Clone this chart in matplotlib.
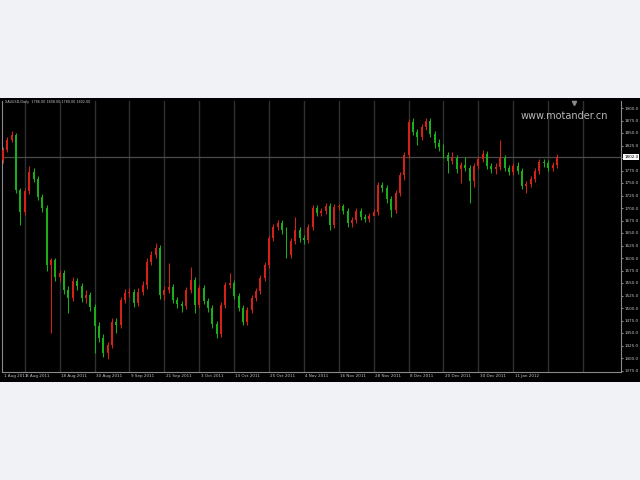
import matplotlib

matplotlib.use("Agg")
import matplotlib.pyplot as plt
import matplotlib.transforms as mtransforms
import numpy as np
from matplotlib.patches import Rectangle

TITLE = "XAUUSD,Daily  1786.00 1808.00 1780.00 1802.00"
WATERMARK = "www.motander.cn"

# daily bars
opens = [1796, 1816, 1836, 1846, 1736, 1692, 1734, 1772, 1758, 1722,
         1700, 1586, 1596, 1562, 1570, 1536, 1520, 1554, 1544, 1520,
         1526, 1502, 1464, 1440, 1410, 1426, 1472, 1466, 1516, 1530,
         1532, 1510, 1532, 1546, 1592, 1606, 1620, 1526, 1536, 1542,
         1516, 1508, 1504, 1536, 1556, 1506, 1540, 1514, 1500, 1468,
         1448, 1506, 1546, 1550, 1524, 1500, 1472, 1496, 1520, 1534,
         1560, 1586, 1640, 1662, 1670, 1656, 1606, 1634, 1656, 1640,
         1636, 1662, 1700, 1690, 1694, 1704, 1666, 1702, 1704, 1694,
         1670, 1676, 1694, 1682, 1678, 1684, 1692, 1746, 1740, 1718,
         1696, 1730, 1766, 1806, 1872, 1852, 1842, 1862, 1874, 1848,
         1830, 1822, 1806, 1794, 1800, 1778, 1786, 1780, 1754, 1784,
         1798, 1808, 1784, 1778, 1782, 1800, 1780, 1772, 1784, 1774,
         1744, 1748, 1758, 1774, 1792, 1790, 1780, 1786]
highs = [1822, 1842, 1854, 1850, 1740, 1740, 1784, 1780, 1764, 1728,
         1706, 1600, 1600, 1576, 1576, 1544, 1562, 1560, 1550, 1536,
         1532, 1508, 1472, 1448, 1432, 1480, 1480, 1522, 1538, 1540,
         1538, 1540, 1554, 1600, 1614, 1630, 1626, 1544, 1590, 1548,
         1522, 1514, 1542, 1582, 1562, 1546, 1546, 1520, 1506, 1474,
         1512, 1552, 1570, 1556, 1530, 1506, 1502, 1526, 1540, 1566,
         1592, 1646, 1668, 1676, 1676, 1662, 1640, 1682, 1662, 1646,
         1668, 1706, 1706, 1700, 1710, 1710, 1708, 1708, 1708, 1700,
         1682, 1700, 1700, 1688, 1690, 1698, 1752, 1752, 1746, 1724,
         1736, 1772, 1812, 1878, 1880, 1858, 1868, 1880, 1880, 1854,
         1838, 1828, 1812, 1812, 1806, 1792, 1802, 1786, 1790, 1804,
         1816, 1814, 1790, 1790, 1836, 1806, 1786, 1790, 1792, 1780,
         1754, 1764, 1780, 1798, 1798, 1796, 1792, 1808]
lows = [1790, 1812, 1832, 1730, 1666, 1686, 1728, 1752, 1716, 1692,
        1574, 1450, 1554, 1552, 1528, 1490, 1514, 1536, 1512, 1510,
        1494, 1410, 1432, 1402, 1398, 1420, 1450, 1460, 1510, 1522,
        1502, 1504, 1526, 1538, 1586, 1600, 1518, 1516, 1530, 1510,
        1500, 1492, 1498, 1530, 1490, 1500, 1508, 1492, 1460, 1440,
        1442, 1500, 1540, 1518, 1494, 1466, 1466, 1490, 1514, 1528,
        1554, 1580, 1634, 1656, 1648, 1600, 1600, 1628, 1632, 1628,
        1630, 1656, 1684, 1684, 1688, 1656, 1660, 1696, 1688, 1662,
        1662, 1670, 1676, 1672, 1672, 1686, 1686, 1732, 1710, 1682,
        1690, 1724, 1756, 1800, 1846, 1826, 1836, 1856, 1842, 1820,
        1814, 1800, 1770, 1788, 1770, 1750, 1774, 1710, 1742, 1778,
        1792, 1778, 1770, 1768, 1776, 1774, 1766, 1766, 1768, 1738,
        1730, 1742, 1752, 1768, 1782, 1774, 1774, 1780]
closes = [1816, 1836, 1846, 1736, 1692, 1734, 1772, 1758, 1722, 1700,
          1586, 1596, 1562, 1570, 1536, 1520, 1554, 1544, 1520, 1526,
          1502, 1464, 1440, 1410, 1426, 1472, 1466, 1516, 1530, 1532,
          1510, 1532, 1546, 1592, 1606, 1620, 1526, 1536, 1542, 1516,
          1508, 1504, 1536, 1556, 1506, 1540, 1514, 1500, 1468, 1448,
          1506, 1546, 1550, 1524, 1500, 1472, 1496, 1520, 1534, 1560,
          1586, 1640, 1662, 1670, 1656, 1606, 1634, 1656, 1640, 1636,
          1662, 1700, 1690, 1694, 1704, 1666, 1702, 1704, 1694, 1670,
          1676, 1694, 1682, 1678, 1684, 1692, 1746, 1740, 1718, 1696,
          1730, 1766, 1806, 1872, 1852, 1842, 1862, 1874, 1848, 1830,
          1822, 1806, 1794, 1800, 1778, 1786, 1780, 1754, 1784, 1798,
          1808, 1784, 1778, 1782, 1800, 1780, 1772, 1784, 1774, 1744,
          1748, 1758, 1774, 1792, 1790, 1780, 1786, 1802]

price_ticks = list(range(1375, 1901, 25))
grid_bars = [5, 13, 21, 29, 37, 45, 53, 61, 69, 77, 85, 93, 101, 109, 117, 125, 133]
label_bars = [0, 5, 13, 21, 29, 37, 45, 53, 61, 69, 77, 85, 93, 101, 109, 117]
time_labels = ["1 Aug 2011", "8 Aug 2011", "18 Aug 2011", "30 Aug 2011", "9 Sep 2011",
               "21 Sep 2011", "3 Oct 2011", "13 Oct 2011", "25 Oct 2011", "4 Nov 2011",
               "16 Nov 2011", "28 Nov 2011", "8 Dec 2011", "20 Dec 2011", "30 Dec 2011",
               "11 Jan 2012"]

UP = "#d42218"
DOWN = "#1aae1a"
FG = "#c4c4c4"

W, H = 640, 480
fig = plt.figure(figsize=(6.4, 4.8), dpi=100, facecolor="#f0f2f5")
fig.patches.append(
    Rectangle((0, 1 - 382 / H), 1, 284 / H, transform=fig.transFigure,
              facecolor="black", edgecolor="none", zorder=-10)
)
ax = fig.add_axes([2 / W, 1 - 372 / H, 619 / W, 271 / H])
ax.set_facecolor("black")

o = np.array(opens)
h = np.array(highs)
lo = np.array(lows)
c = np.array(closes)
x = np.arange(len(c))
colors = [UP if cc >= oo else DOWN for oo, cc in zip(o, c)]

for g in grid_bars:
    ax.axvline(g, color="#303030", lw=1.0, zorder=1)
ax.axhline(c[-1], color="#4a4a4a", lw=0.9, zorder=1)

ax.vlines(x, lo, h, colors=colors, lw=0.75, zorder=2)
body = np.maximum(np.abs(c - o), 1.2)
ax.bar(x, body, bottom=np.minimum(o, c), width=0.45, color=colors,
       edgecolor="none", zorder=3)

ax.set_xlim(-0.23, 141.7)
ax.set_ylim(1372, 1914)
ax.set_xticks([])
ax.yaxis.tick_right()
ax.set_yticks(price_ticks)
ax.set_yticklabels([f"{p:.1f}" for p in price_ticks])
ax.tick_params(axis="y", labelsize=3.0, colors=FG, length=1.5, width=0.5, pad=1)
for side in ("left", "right", "bottom"):
    ax.spines[side].set_color("#8a8a8a")
    ax.spines[side].set_linewidth(0.8)
ax.spines["top"].set_visible(False)

trans = mtransforms.blended_transform_factory(ax.transData, ax.transAxes)
for b, lab in zip(label_bars, time_labels):
    ax.text(b + 0.3, -0.008, lab, transform=trans, ha="left", va="top",
            fontsize=3.0, color=FG, clip_on=False)

ytrans = mtransforms.blended_transform_factory(ax.transAxes, ax.transData)
ax.text(1.005, c[-1], f"{c[-1]:.1f}", transform=ytrans, ha="left", va="center",
        fontsize=3.0, color="black", clip_on=False,
        bbox=dict(boxstyle="square,pad=0.2", facecolor="white", edgecolor="none"))

fig.text(5 / W, 1 - 102 / H, TITLE, fontsize=2.4, color=FG, ha="left", va="center")
ax.text(0.979, 0.945, WATERMARK, transform=ax.transAxes, ha="right", va="center",
        fontsize=7.0, color="#b8b8b8")
ax.plot([131], [1910], marker="v", ms=3, color="#8a8a8a", clip_on=False)

fig.savefig("out.png", dpi=100, facecolor=fig.get_facecolor())
